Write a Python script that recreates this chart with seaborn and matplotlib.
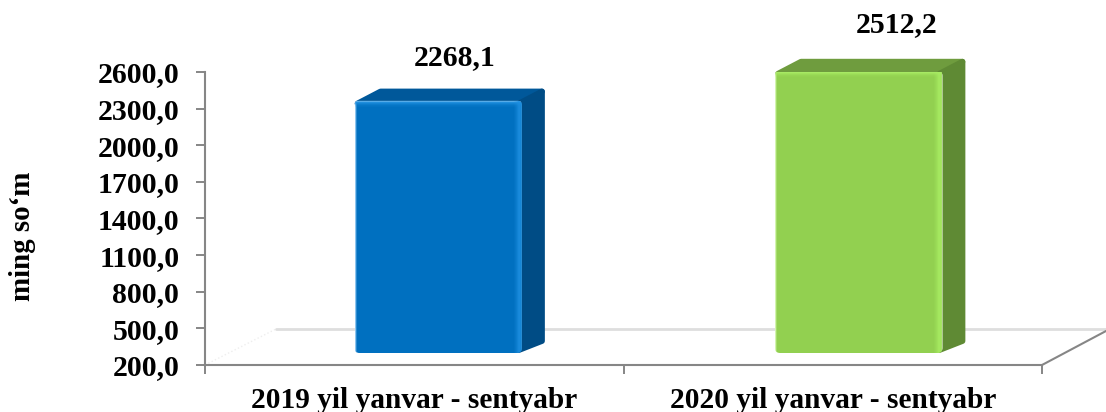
import numpy as np
import pandas as pd
import matplotlib
matplotlib.use('Agg')
import matplotlib.pyplot as plt
import seaborn as sns
from matplotlib.patches import Polygon, Rectangle, FancyBboxPatch
from matplotlib.transforms import ScaledTranslation, IdentityTransform

# DATA
periods = ['2019 yil yanvar - sentyabr', '2020 yil yanvar - sentyabr']
values = [2268.1, 2512.2]
value_labels = ['2268,1', '2512,2']
y_ticks = [200, 500, 800, 1100, 1400, 1700, 2000, 2300, 2600]

# colours: front, top, side, highlight
front_colors = ['#0070C0', '#92D050']
top_colors = ['#00589A', '#6F9C3E']
side_colors = ['#004C85', '#5F8A34']
light_colors = ['#1E8FE0', '#A8EC62']

W, H, DPI = 1106, 412, 100
GREY = '#868686'
DX, DY = 23, 12   # depth of the 3d box in pixels
SHIFT_X, SHIFT_Y = [24, 26], 12   # bars stand in the middle of the floor


def px(x, y):
    # reference pixel -> display
    return x, H - y


sns.set_style('white')
plt.rcParams['font.family'] = ['Liberation Serif', 'DejaVu Serif']
plt.rcParams['font.weight'] = 'bold'
plt.rcParams['text.color'] = 'black'
plt.rcParams['axes.labelcolor'] = 'black'
plt.rcParams['xtick.color'] = 'black'
plt.rcParams['ytick.color'] = 'black'

df = pd.DataFrame({'period': periods, 'value': values})

fig = plt.figure(figsize=(W / DPI, H / DPI), dpi=DPI)
ax = fig.add_axes([205 / W, (H - 365) / H, (1042 - 205) / W, (365 - 72) / H])
ax.patch.set_visible(False)

sns.barplot(data=df, x='period', y='value', hue='period', palette=front_colors,
            width=0.4, saturation=1, legend=False, ax=ax, zorder=3)

ax.set_xlim(-0.5, 1.5)
ax.set_ylim(200, 2600)
ax.set_yticks(y_ticks)
ax.set_yticklabels([f'{t:.1f}'.replace('.', ',') for t in y_ticks], fontsize=21.4, fontweight='bold')
ax.set_xticks([-0.5, 0.5, 1.5], labels=['', '', ''])
ax.set_xlabel('')
ax.set_ylabel('ming so\u2018m', fontsize=20.8, fontweight='bold', labelpad=0)
ax.yaxis.set_label_coords((36 - 205) / (1042 - 205), 0.44)
ax.tick_params(axis='both', length=6.5, width=1.4, color=GREY, left=True, bottom=True)
ax.tick_params(axis='y', pad=12)

sns.despine(ax=ax)
for side in ['left', 'bottom']:
    ax.spines[side].set_color(GREY)
    ax.spines[side].set_linewidth(1.5)
    ax.spines[side].set_zorder(1)

for i, period in enumerate(periods):
    ax.annotate(period, (i, 0), xycoords=ax.get_xaxis_transform(), xytext=(0, -35),
                textcoords='offset pixels', ha='center', va='center',
                fontsize=21.2, fontweight='bold', annotation_clip=False)

# floor of the 3d chart
idt = IdentityTransform()
fig.add_artist(plt.Line2D(*zip(px(276, 329), px(1106, 329)), transform=idt, color='#DEDEDE', lw=2, zorder=0))
fig.add_artist(plt.Line2D(*zip(px(205, 365), px(276, 329)), transform=idt, color='#EEEEEE', lw=1, ls=':', zorder=0))
fig.add_artist(plt.Line2D(*zip(px(1042, 365), px(1106, 331)), transform=idt, color=GREY, lw=1.5, zorder=0))

# move the seaborn bars and give them their box faces
fig.canvas.draw()
for i, (bar, value) in enumerate(zip(ax.patches, values)):
    offset = ScaledTranslation(SHIFT_X[i] / DPI, SHIFT_Y / DPI, fig.dpi_scale_trans)
    (x0, y0), (x1, y1) = ax.transData.transform([(bar.get_x(), 200),
                                                 (bar.get_x() + bar.get_width(), value)])
    x0, x1 = x0 + SHIFT_X[i], x1 + SHIFT_X[i]
    y0, y1 = y0 + SHIFT_Y, y1 + SHIFT_Y

    r = 3
    top = Polygon([(x0 + r, y1 - r), (x0 + DX + r, y1 + DY - r), (x1 + DX - r, y1 + DY - r), (x1, y1 - r)],
                  closed=True, transform=idt, fc=top_colors[i], ec=top_colors[i], lw=r * 1.4,
                  joinstyle='round', zorder=2.5, clip_on=False)
    side = Polygon([(x1 - r, y0 + r), (x1 + DX - r, y0 + DY), (x1 + DX - r, y1 + DY - r), (x1 - r, y1 - r)],
                   closed=True, transform=idt, fc=side_colors[i], ec=side_colors[i], lw=r * 1.4,
                   joinstyle='round', zorder=2.6, clip_on=False)
    ax.add_artist(top)
    ax.add_artist(side)

    # rounded front
    round_box = FancyBboxPatch((x0 + 5, y0 + 5), x1 - x0 - 10, y1 - y0 - 10,
                               boxstyle='round,pad=5', transform=idt, fc='none', ec='none')
    bar.set_transform(ax.transData + offset)
    bar.set_zorder(3)
    bar.set_clip_path(round_box.get_path(), round_box.get_transform())

    # soft bevel highlights
    def bevel(x, y, w, h, alpha):
        rect = Rectangle((x, y), w, h, transform=idt, fc=light_colors[i], ec='none',
                         alpha=alpha, zorder=3.2)
        ax.add_artist(rect)
        rect.set_clip_path(round_box.get_path(), round_box.get_transform())

    for k, a in enumerate([0.55, 0.75, 0.85, 0.8, 0.6, 0.4, 0.25, 0.12]):
        bevel(x1 - 1 - k, y0, 1, y1 - y0, a)
    for k, a in enumerate([0.75, 0.85, 0.65, 0.4, 0.2, 0.1]):
        bevel(x0, y1 - 1 - k, x1 - x0, 1, a)
    for k, a in enumerate([0.5, 0.25]):
        bevel(x0 + k, y0, 1, y1 - y0, a)

# value labels
label_y = [58, 25]
label_x = [455, 897]
for lx, ly, text in zip(label_x, label_y, value_labels):
    fig.text(lx / W, 1 - ly / H, text, ha='center', va='center', fontsize=21.4, fontweight='bold')

fig.savefig('out.png', dpi=DPI)
